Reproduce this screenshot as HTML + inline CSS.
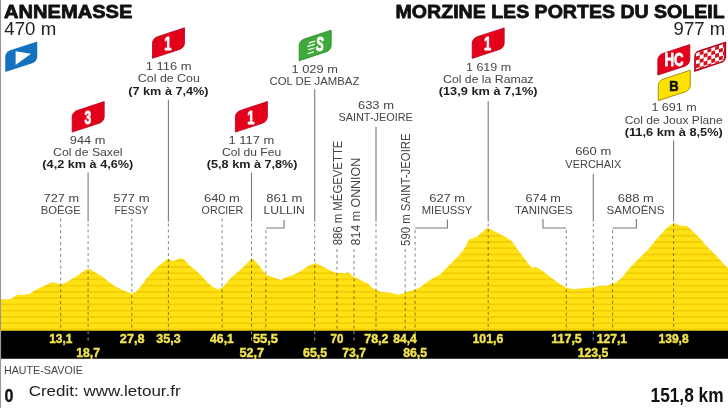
<!DOCTYPE html>
<html><head><meta charset="utf-8"><style>
html,body{margin:0;padding:0;background:#fff;width:728px;height:408px;overflow:hidden}
svg{display:block;will-change:transform}
text{font-family:"Liberation Sans",sans-serif}
</style></head><body>
<svg width="728" height="408" viewBox="0 0 728 408">
<rect width="728" height="408" fill="#fff"/>
<defs>
<pattern id="stripes" patternUnits="userSpaceOnUse" x="0" y="-0.9" width="728" height="6.25"><rect width="728" height="6.25" fill="#FFE114"/><rect y="4.6" width="728" height="1.5" fill="#EFCB00"/></pattern>
</defs>
<polygon points="1,299 7.8,299.4 11.8,298.4 16.7,295 21.6,295 29.4,294 34.3,290.6 39.2,288.1 45.5,285.2 51,282.5 55.1,282.5 60.6,284.5 66.1,282.5 71.6,279 78.5,274.9 85.3,270.1 89.5,268.7 95,272.2 101.8,276.3 108.7,281.8 115.5,286.6 122.4,290 129.3,292.8 132,293.5 136.2,291.4 140,287.5 146.9,278 153.7,270.4 160.6,264.2 168.2,258.7 173,261.2 177.1,259.4 181.2,258 185.3,260.8 189.5,265.6 195,269.7 200.4,274.5 205.9,280.7 212.8,286.9 218.3,289.6 223.8,286.2 230.7,278 240,270 245.5,265.1 251.7,258.2 256.5,262.4 262,269.2 266.1,274.7 271.6,276.8 277.1,278.8 281.2,279.9 285.3,277.5 292.2,275.4 300.4,271.3 308.7,265.8 315.5,263 322.4,266.5 329.3,269.9 336,273 341.8,272.8 344.7,273.8 347.6,272 353.5,276.5 359.4,279.4 366.8,283.1 374.1,289 381.5,291.9 388.8,292.6 394.7,293.8 399.1,294.9 405,292.6 412.4,290.4 418.2,288.2 420,287.6 425.9,282.7 433.7,277.8 439.6,274.9 449.4,265.1 459.2,255.3 465.1,247.5 469,239.6 476.9,236.7 482.7,231.8 487.6,227.8 493.5,230.8 498.4,233.3 506.5,237.5 512,241.3 517.2,248.9 522.3,255.7 527.4,262.6 531.7,267.7 536,266.9 542.9,271.2 551.5,278 560,284 566,287.5 573.8,289.2 582.3,288.3 592.6,287.5 599.5,285.7 606.3,285.7 610,284.6 615.9,282.6 621.8,277.7 629.6,267.9 639.4,258.1 649.2,248.3 657.1,238.5 664.9,229.7 670.8,224.8 674.7,223.2 680.6,225.8 686.5,225.8 692.4,230.7 700.2,238.5 708,247.4 715.9,255.2 723.7,264 728,268 728,331 1,331" fill="url(#stripes)"/>
<rect x="1" y="330.75" width="727" height="28" fill="#000"/>
<rect x="0" y="0" width="1.1" height="408" fill="#9a9a9a"/>
<line x1="88.1" y1="172.6" x2="88.1" y2="221.5" stroke="#7a7a7a" stroke-width="1.1"/>
<line x1="88.1" y1="223.5" x2="88.1" y2="331" stroke="rgba(0,0,0,0.47)" stroke-width="1.0" stroke-dasharray="3 2.9" stroke-dashoffset="0"/>
<line x1="168.4" y1="99.7" x2="168.4" y2="221.5" stroke="#7a7a7a" stroke-width="1.1"/>
<line x1="168.4" y1="223.5" x2="168.4" y2="331" stroke="rgba(0,0,0,0.47)" stroke-width="1.0" stroke-dasharray="3 2.9" stroke-dashoffset="0"/>
<line x1="251.5" y1="172.6" x2="251.5" y2="221.5" stroke="#7a7a7a" stroke-width="1.1"/>
<line x1="251.5" y1="223.5" x2="251.5" y2="331" stroke="rgba(0,0,0,0.47)" stroke-width="1.0" stroke-dasharray="3 2.9" stroke-dashoffset="0"/>
<line x1="314.7" y1="89.3" x2="314.7" y2="221.5" stroke="#7a7a7a" stroke-width="1.1"/>
<line x1="314.7" y1="223.5" x2="314.7" y2="331" stroke="rgba(0,0,0,0.47)" stroke-width="1.0" stroke-dasharray="3 2.9" stroke-dashoffset="0"/>
<line x1="376" y1="126.8" x2="376" y2="221.5" stroke="#7a7a7a" stroke-width="1.1"/>
<line x1="376" y1="223.5" x2="376" y2="331" stroke="rgba(0,0,0,0.47)" stroke-width="1.0" stroke-dasharray="3 2.9" stroke-dashoffset="0"/>
<line x1="488.2" y1="101" x2="488.2" y2="221.5" stroke="#7a7a7a" stroke-width="1.1"/>
<line x1="488.2" y1="223.5" x2="488.2" y2="331" stroke="rgba(0,0,0,0.47)" stroke-width="1.0" stroke-dasharray="3 2.9" stroke-dashoffset="0"/>
<line x1="593.3" y1="173.7" x2="593.3" y2="221.5" stroke="#7a7a7a" stroke-width="1.1"/>
<line x1="593.3" y1="223.5" x2="593.3" y2="331" stroke="rgba(0,0,0,0.47)" stroke-width="1.0" stroke-dasharray="3 2.9" stroke-dashoffset="0"/>
<line x1="673.6" y1="140.6" x2="673.6" y2="221.5" stroke="#7a7a7a" stroke-width="1.1"/>
<line x1="673.6" y1="223.5" x2="673.6" y2="331" stroke="rgba(0,0,0,0.47)" stroke-width="1.0" stroke-dasharray="3 2.9" stroke-dashoffset="0"/>
<line x1="60.7" y1="218.4" x2="60.7" y2="331" stroke="rgba(0,0,0,0.47)" stroke-width="1.0" stroke-dasharray="3 2.9" stroke-dashoffset="0"/>
<line x1="131.8" y1="218.4" x2="131.8" y2="331" stroke="rgba(0,0,0,0.47)" stroke-width="1.0" stroke-dasharray="3 2.9" stroke-dashoffset="0"/>
<line x1="222.1" y1="218.4" x2="222.1" y2="331" stroke="rgba(0,0,0,0.47)" stroke-width="1.0" stroke-dasharray="3 2.9" stroke-dashoffset="0"/>
<polyline points="284.1,220 284.1,228 265.9,228" fill="none" stroke="#7a7a7a" stroke-width="1.1"/>
<line x1="265.9" y1="230" x2="265.9" y2="331" stroke="rgba(0,0,0,0.47)" stroke-width="1.0" stroke-dasharray="3 2.9" stroke-dashoffset="0"/>
<polyline points="447.4,219.6 447.4,228 415.1,228" fill="none" stroke="#7a7a7a" stroke-width="1.1"/>
<line x1="415.1" y1="230" x2="415.1" y2="331" stroke="rgba(0,0,0,0.47)" stroke-width="1.0" stroke-dasharray="3 2.9" stroke-dashoffset="0"/>
<polyline points="543,219.1 543,228 566.3,228" fill="none" stroke="#7a7a7a" stroke-width="1.1"/>
<line x1="566.3" y1="230" x2="566.3" y2="331" stroke="rgba(0,0,0,0.47)" stroke-width="1.0" stroke-dasharray="3 2.9" stroke-dashoffset="0"/>
<polyline points="636.4,219 636.4,228 612.6,228" fill="none" stroke="#7a7a7a" stroke-width="1.1"/>
<line x1="612.6" y1="230" x2="612.6" y2="331" stroke="rgba(0,0,0,0.47)" stroke-width="1.0" stroke-dasharray="3 2.9" stroke-dashoffset="0"/>
<line x1="337" y1="249" x2="337" y2="331" stroke="rgba(0,0,0,0.47)" stroke-width="1.0" stroke-dasharray="3 2.9" stroke-dashoffset="0"/>
<line x1="354" y1="249" x2="354" y2="331" stroke="rgba(0,0,0,0.47)" stroke-width="1.0" stroke-dasharray="3 2.9" stroke-dashoffset="0"/>
<line x1="405.2" y1="249" x2="405.2" y2="331" stroke="rgba(0,0,0,0.47)" stroke-width="1.0" stroke-dasharray="3 2.9" stroke-dashoffset="0"/>
<line x1="88.1" y1="331.3" x2="88.1" y2="334.3" stroke="#888" stroke-width="1.1"/>
<line x1="88.1" y1="337.2" x2="88.1" y2="340.6" stroke="#888" stroke-width="1.1"/>
<line x1="251.5" y1="331.3" x2="251.5" y2="334.3" stroke="#888" stroke-width="1.1"/>
<line x1="251.5" y1="337.2" x2="251.5" y2="340.6" stroke="#888" stroke-width="1.1"/>
<line x1="314.7" y1="331.3" x2="314.7" y2="334.3" stroke="#888" stroke-width="1.1"/>
<line x1="314.7" y1="337.2" x2="314.7" y2="340.6" stroke="#888" stroke-width="1.1"/>
<line x1="354" y1="331.3" x2="354" y2="334.3" stroke="#888" stroke-width="1.1"/>
<line x1="354" y1="337.2" x2="354" y2="340.6" stroke="#888" stroke-width="1.1"/>
<line x1="415.1" y1="331.3" x2="415.1" y2="334.3" stroke="#888" stroke-width="1.1"/>
<line x1="415.1" y1="337.2" x2="415.1" y2="340.6" stroke="#888" stroke-width="1.1"/>
<line x1="593.3" y1="331.3" x2="593.3" y2="334.3" stroke="#888" stroke-width="1.1"/>
<line x1="593.3" y1="337.2" x2="593.3" y2="340.6" stroke="#888" stroke-width="1.1"/>
<path d="M5.25,72.0 L5.25,57.0 C5.25,53.75 7.5,51.26171875 10.25,50.359375 L37.25,41.5 L37.25,56.5 C37.25,59.75 35.0,62.23828125 32.25,63.140625 Z" fill="#1371BD"/>
<path d="M15.6,51.3 L15.6,65 L31,53.7 Z" fill="#fff"/>
<path d="M152.5,58.3 L152.5,43.3 C152.5,40.05 154.75,37.56171875 157.5,36.659375 L184.5,27.8 L184.5,42.8 C184.5,46.05 182.25,48.53828125 179.5,49.440625 Z" fill="#E3001B" stroke="#B5001A" stroke-width="0.8"/>
<text x="164.29" y="49.70" font-size="18.70" font-weight="bold" fill="#fff" stroke="#fff" stroke-width="0.9" stroke-linejoin="round" textLength="7.18" lengthAdjust="spacingAndGlyphs">1</text>
<path d="M72.2,132.1 L72.2,117.1 C72.2,113.85 74.45,111.36171875 77.2,110.459375 L104.2,101.6 L104.2,116.6 C104.2,119.85 101.95,122.33828125 99.2,123.240625 Z" fill="#E3001B" stroke="#B5001A" stroke-width="0.8"/>
<text x="84.53" y="123.50" font-size="18.70" font-weight="bold" fill="#fff" stroke="#fff" stroke-width="0.9" stroke-linejoin="round" textLength="6.71" lengthAdjust="spacingAndGlyphs">3</text>
<path d="M235.4,132.1 L235.4,117.1 C235.4,113.85 237.65,111.36171875 240.4,110.459375 L267.4,101.6 L267.4,116.6 C267.4,119.85 265.15,122.33828125 262.4,123.240625 Z" fill="#E3001B" stroke="#B5001A" stroke-width="0.8"/>
<text x="247.19" y="123.50" font-size="18.70" font-weight="bold" fill="#fff" stroke="#fff" stroke-width="0.9" stroke-linejoin="round" textLength="7.18" lengthAdjust="spacingAndGlyphs">1</text>
<path d="M472.2,58.4 L472.2,43.4 C472.2,40.15 474.45,37.66171875 477.2,36.759375 L504.2,27.9 L504.2,42.9 C504.2,46.15 501.95,48.63828125 499.2,49.540625 Z" fill="#E3001B" stroke="#B5001A" stroke-width="0.8"/>
<text x="483.99" y="49.80" font-size="18.70" font-weight="bold" fill="#fff" stroke="#fff" stroke-width="0.9" stroke-linejoin="round" textLength="7.18" lengthAdjust="spacingAndGlyphs">1</text>
<path d="M299.2,60.7 L299.2,45.7 C299.2,42.45 301.45,39.96171875 304.2,39.059375 L331.2,30.2 L331.2,45.2 C331.2,48.45 328.95,50.93828125 326.2,51.840625 Z" fill="#3DAA3A" stroke="#21852B" stroke-width="0.8"/>
<text x="316.05" y="51.20" font-size="20.00" font-weight="bold" fill="#fff" stroke="#fff" stroke-width="1.1" stroke-linejoin="round" textLength="7.70" lengthAdjust="spacingAndGlyphs" font-style="italic">S</text>
<line x1="309.2" y1="42.9" x2="314.8" y2="41.2" stroke="#fff" stroke-width="1.3" stroke-linecap="round"/>
<line x1="307.6" y1="46.3" x2="314.3" y2="44.3" stroke="#fff" stroke-width="1.3" stroke-linecap="round"/>
<line x1="308.8" y1="49.6" x2="314.0" y2="48.0" stroke="#fff" stroke-width="1.3" stroke-linecap="round"/>
<line x1="308.2" y1="53.5" x2="313.4" y2="51.9" stroke="#fff" stroke-width="1.3" stroke-linecap="round"/>
<path d="M657.8,75.1 L657.8,60.1 C657.8,56.85 660.05,54.36171875 662.8,53.459375 L689.8,44.6 L689.8,59.599999999999994 C689.8,62.849999999999994 687.55,65.33828125 684.8,66.240625 Z" fill="#E3001B" stroke="#B5001A" stroke-width="0.8"/>
<text x="664.50" y="66.20" font-size="19.28" font-weight="bold" fill="#fff" stroke="#fff" stroke-width="0.8" stroke-linejoin="round" textLength="19.15" lengthAdjust="spacingAndGlyphs">HC</text>
<path d="M694.1,71.9 L694.1,56.9 C694.1,53.65 696.35,51.16171875 699.1,50.259375 L726.1,41.4 L726.1,56.4 C726.1,59.65 723.85,62.13828125 721.1,63.040625 Z" fill="#B4001A"/>
<clipPath id="flagclip"><path d="M695.9,69.5 L695.9,55.2 C695.9,53.6 696.8,52.8 698.3,52.3 L724.1,43.8 L724.1,58.2 C724.1,59.8 723.3,60.7 721.8,61.2 Z"/></clipPath>
<g clip-path="url(#flagclip)"><rect x="690" y="38" width="40" height="36" fill="#fff"/>
<path d="M695.90,48.70 l3.85,-1.26 l0,3.90 l-3.85,1.26 Z" fill="#D8101E"/>
<path d="M695.90,56.50 l3.85,-1.26 l0,3.90 l-3.85,1.26 Z" fill="#D8101E"/>
<path d="M695.90,64.30 l3.85,-1.26 l0,3.90 l-3.85,1.26 Z" fill="#D8101E"/>
<path d="M695.90,72.10 l3.85,-1.26 l0,3.90 l-3.85,1.26 Z" fill="#D8101E"/>
<path d="M699.75,51.34 l3.85,-1.26 l0,3.90 l-3.85,1.26 Z" fill="#D8101E"/>
<path d="M699.75,59.14 l3.85,-1.26 l0,3.90 l-3.85,1.26 Z" fill="#D8101E"/>
<path d="M699.75,66.94 l3.85,-1.26 l0,3.90 l-3.85,1.26 Z" fill="#D8101E"/>
<path d="M699.75,74.74 l3.85,-1.26 l0,3.90 l-3.85,1.26 Z" fill="#D8101E"/>
<path d="M703.60,46.17 l3.85,-1.26 l0,3.90 l-3.85,1.26 Z" fill="#D8101E"/>
<path d="M703.60,53.97 l3.85,-1.26 l0,3.90 l-3.85,1.26 Z" fill="#D8101E"/>
<path d="M703.60,61.77 l3.85,-1.26 l0,3.90 l-3.85,1.26 Z" fill="#D8101E"/>
<path d="M703.60,69.57 l3.85,-1.26 l0,3.90 l-3.85,1.26 Z" fill="#D8101E"/>
<path d="M707.45,48.81 l3.85,-1.26 l0,3.90 l-3.85,1.26 Z" fill="#D8101E"/>
<path d="M707.45,56.61 l3.85,-1.26 l0,3.90 l-3.85,1.26 Z" fill="#D8101E"/>
<path d="M707.45,64.41 l3.85,-1.26 l0,3.90 l-3.85,1.26 Z" fill="#D8101E"/>
<path d="M707.45,72.21 l3.85,-1.26 l0,3.90 l-3.85,1.26 Z" fill="#D8101E"/>
<path d="M711.30,43.65 l3.85,-1.26 l0,3.90 l-3.85,1.26 Z" fill="#D8101E"/>
<path d="M711.30,51.45 l3.85,-1.26 l0,3.90 l-3.85,1.26 Z" fill="#D8101E"/>
<path d="M711.30,59.25 l3.85,-1.26 l0,3.90 l-3.85,1.26 Z" fill="#D8101E"/>
<path d="M711.30,67.05 l3.85,-1.26 l0,3.90 l-3.85,1.26 Z" fill="#D8101E"/>
<path d="M715.15,46.28 l3.85,-1.26 l0,3.90 l-3.85,1.26 Z" fill="#D8101E"/>
<path d="M715.15,54.08 l3.85,-1.26 l0,3.90 l-3.85,1.26 Z" fill="#D8101E"/>
<path d="M715.15,61.88 l3.85,-1.26 l0,3.90 l-3.85,1.26 Z" fill="#D8101E"/>
<path d="M715.15,69.68 l3.85,-1.26 l0,3.90 l-3.85,1.26 Z" fill="#D8101E"/>
<path d="M719.00,41.12 l3.85,-1.26 l0,3.90 l-3.85,1.26 Z" fill="#D8101E"/>
<path d="M719.00,48.92 l3.85,-1.26 l0,3.90 l-3.85,1.26 Z" fill="#D8101E"/>
<path d="M719.00,56.72 l3.85,-1.26 l0,3.90 l-3.85,1.26 Z" fill="#D8101E"/>
<path d="M719.00,64.52 l3.85,-1.26 l0,3.90 l-3.85,1.26 Z" fill="#D8101E"/>
<path d="M722.85,43.76 l3.85,-1.26 l0,3.90 l-3.85,1.26 Z" fill="#D8101E"/>
<path d="M722.85,51.56 l3.85,-1.26 l0,3.90 l-3.85,1.26 Z" fill="#D8101E"/>
<path d="M722.85,59.36 l3.85,-1.26 l0,3.90 l-3.85,1.26 Z" fill="#D8101E"/>
<path d="M722.85,67.16 l3.85,-1.26 l0,3.90 l-3.85,1.26 Z" fill="#D8101E"/>
</g>
<path d="M658.3,100.7 L658.3,85.7 C658.3,82.45 660.55,79.96171875 663.3,79.059375 L690.3,70.2 L690.3,85.2 C690.3,88.45 688.05,90.93828125 685.3,91.840625 Z" fill="#FFE100" stroke="#8a7a00" stroke-width="0.8"/>
<text x="669.13" y="91.30" font-size="15.51" font-weight="bold" fill="#111" stroke="#111" stroke-width="0.7" stroke-linejoin="round" textLength="9.35" lengthAdjust="spacingAndGlyphs">B</text>
<text x="4.00" y="17.90" font-size="18.70" font-weight="bold" fill="#111" stroke="#111" stroke-width="0.8" stroke-linejoin="round" textLength="128.40" lengthAdjust="spacingAndGlyphs">ANNEMASSE</text>
<text x="4.33" y="35.20" font-size="18.41" font-weight="normal" fill="#222" textLength="51.87" lengthAdjust="spacingAndGlyphs">470 m</text>
<text x="395.58" y="18.00" font-size="18.99" font-weight="bold" fill="#111" stroke="#111" stroke-width="0.8" stroke-linejoin="round" textLength="329.10" lengthAdjust="spacingAndGlyphs">MORZINE LES PORTES DU SOLEIL</text>
<text x="673.62" y="35.25" font-size="18.48" font-weight="normal" fill="#222" textLength="51.47" lengthAdjust="spacingAndGlyphs">977 m</text>
<text x="145.83" y="70.10" font-size="11.45" font-weight="normal" fill="#454545" textLength="45.73" lengthAdjust="spacingAndGlyphs">1 116 m</text>
<text x="137.88" y="82.10" font-size="11.01" font-weight="normal" fill="#454545" textLength="61.93" lengthAdjust="spacingAndGlyphs">Col de Cou</text>
<text x="128.27" y="94.50" font-size="11.01" font-weight="bold" fill="#1e1e1e" textLength="80.29" lengthAdjust="spacingAndGlyphs">(7 km à 7,4%)</text>
<text x="69.89" y="143.80" font-size="11.01" font-weight="normal" fill="#454545" textLength="35.53" lengthAdjust="spacingAndGlyphs">944 m</text>
<text x="53.09" y="155.50" font-size="11.01" font-weight="normal" fill="#454545" textLength="69.44" lengthAdjust="spacingAndGlyphs">Col de Saxel</text>
<text x="42.37" y="167.80" font-size="11.01" font-weight="bold" fill="#1e1e1e" textLength="90.98" lengthAdjust="spacingAndGlyphs">(4,2 km à 4,6%)</text>
<text x="228.53" y="143.70" font-size="11.16" font-weight="normal" fill="#454545" textLength="45.83" lengthAdjust="spacingAndGlyphs">1 117 m</text>
<text x="222.00" y="156.00" font-size="11.16" font-weight="normal" fill="#454545" textLength="59.11" lengthAdjust="spacingAndGlyphs">Col du Feu</text>
<text x="206.87" y="167.50" font-size="11.01" font-weight="bold" fill="#1e1e1e" textLength="90.57" lengthAdjust="spacingAndGlyphs">(5,8 km à 7,8%)</text>
<text x="291.44" y="73.00" font-size="11.30" font-weight="normal" fill="#454545" textLength="46.41" lengthAdjust="spacingAndGlyphs">1 029 m</text>
<text x="269.53" y="85.00" font-size="11.30" font-weight="normal" fill="#454545" textLength="89.82" lengthAdjust="spacingAndGlyphs">COL DE JAMBAZ</text>
<text x="357.95" y="108.50" font-size="11.59" font-weight="normal" fill="#454545" textLength="36.08" lengthAdjust="spacingAndGlyphs">633 m</text>
<text x="338.41" y="120.90" font-size="11.59" font-weight="normal" fill="#454545" textLength="74.45" lengthAdjust="spacingAndGlyphs">SAINT-JEOIRE</text>
<text x="465.96" y="70.50" font-size="11.30" font-weight="normal" fill="#454545" textLength="45.27" lengthAdjust="spacingAndGlyphs">1 619 m</text>
<text x="443.09" y="82.80" font-size="11.30" font-weight="normal" fill="#454545" textLength="90.52" lengthAdjust="spacingAndGlyphs">Col de la Ramaz</text>
<text x="438.76" y="94.60" font-size="11.30" font-weight="bold" fill="#1e1e1e" textLength="98.77" lengthAdjust="spacingAndGlyphs">(13,9 km à 7,1%)</text>
<text x="651.46" y="111.40" font-size="11.30" font-weight="normal" fill="#454545" textLength="45.16" lengthAdjust="spacingAndGlyphs">1 691 m</text>
<text x="624.70" y="123.60" font-size="11.30" font-weight="normal" fill="#454545" textLength="98.04" lengthAdjust="spacingAndGlyphs">Col de Joux Plane</text>
<text x="624.66" y="135.60" font-size="11.30" font-weight="bold" fill="#1e1e1e" textLength="98.20" lengthAdjust="spacingAndGlyphs">(11,6 km à 8,5%)</text>
<text x="43.63" y="202.10" font-size="11.74" font-weight="normal" fill="#454545" textLength="35.39" lengthAdjust="spacingAndGlyphs">727 m</text>
<text x="40.67" y="213.90" font-size="11.45" font-weight="normal" fill="#454545" textLength="40.20" lengthAdjust="spacingAndGlyphs">BOËGE</text>
<text x="113.38" y="202.10" font-size="11.74" font-weight="normal" fill="#454545" textLength="36.21" lengthAdjust="spacingAndGlyphs">577 m</text>
<text x="114.55" y="213.90" font-size="11.45" font-weight="normal" fill="#454545" textLength="33.87" lengthAdjust="spacingAndGlyphs">FESSY</text>
<text x="203.95" y="202.10" font-size="11.74" font-weight="normal" fill="#454545" textLength="35.98" lengthAdjust="spacingAndGlyphs">640 m</text>
<text x="201.59" y="213.90" font-size="11.45" font-weight="normal" fill="#454545" textLength="41.61" lengthAdjust="spacingAndGlyphs">ORCIER</text>
<text x="266.25" y="202.10" font-size="11.74" font-weight="normal" fill="#454545" textLength="36.19" lengthAdjust="spacingAndGlyphs">861 m</text>
<text x="263.59" y="213.90" font-size="11.45" font-weight="normal" fill="#454545" textLength="41.32" lengthAdjust="spacingAndGlyphs">LULLIN</text>
<text x="429.25" y="202.00" font-size="11.59" font-weight="normal" fill="#454545" textLength="35.88" lengthAdjust="spacingAndGlyphs">627 m</text>
<text x="421.77" y="214.10" font-size="11.59" font-weight="normal" fill="#454545" textLength="50.56" lengthAdjust="spacingAndGlyphs">MIEUSSY</text>
<text x="525.56" y="201.70" font-size="11.30" font-weight="normal" fill="#454545" textLength="35.35" lengthAdjust="spacingAndGlyphs">674 m</text>
<text x="514.94" y="214.00" font-size="11.30" font-weight="normal" fill="#454545" textLength="57.70" lengthAdjust="spacingAndGlyphs">TANINGES</text>
<text x="575.15" y="155.40" font-size="11.59" font-weight="normal" fill="#454545" textLength="36.08" lengthAdjust="spacingAndGlyphs">660 m</text>
<text x="565.35" y="167.50" font-size="11.59" font-weight="normal" fill="#454545" textLength="56.10" lengthAdjust="spacingAndGlyphs">VERCHAIX</text>
<text x="617.85" y="201.70" font-size="11.30" font-weight="normal" fill="#454545" textLength="35.88" lengthAdjust="spacingAndGlyphs">688 m</text>
<text x="606.58" y="214.00" font-size="11.30" font-weight="normal" fill="#454545" textLength="57.85" lengthAdjust="spacingAndGlyphs">SAMOËNS</text>
<text transform="translate(342.30,244.90) rotate(-90)" x="-0.48" y="0" font-size="12.17" font-weight="normal" fill="#454545" textLength="104.76" lengthAdjust="spacingAndGlyphs">886 m MÉGEVETTE</text>
<text transform="translate(359.80,244.90) rotate(-90)" x="-0.53" y="0" font-size="12.17" font-weight="normal" fill="#454545" textLength="87.55" lengthAdjust="spacingAndGlyphs">814 m ONNION</text>
<text transform="translate(410.30,245.50) rotate(-90)" x="-0.46" y="0" font-size="12.32" font-weight="normal" fill="#454545" textLength="112.63" lengthAdjust="spacingAndGlyphs">590 m SAINT-JEOIRE</text>
<text x="49.16" y="342.90" font-size="13.04" font-weight="bold" fill="#F0E34C" stroke="#F0E34C" stroke-width="0.45" stroke-linejoin="round" textLength="23.19" lengthAdjust="spacingAndGlyphs">13,1</text>
<text x="76.34" y="356.80" font-size="13.33" font-weight="bold" fill="#F0E34C" stroke="#F0E34C" stroke-width="0.45" stroke-linejoin="round" textLength="23.64" lengthAdjust="spacingAndGlyphs">18,7</text>
<text x="119.86" y="342.90" font-size="13.04" font-weight="bold" fill="#F0E34C" stroke="#F0E34C" stroke-width="0.45" stroke-linejoin="round" textLength="24.74" lengthAdjust="spacingAndGlyphs">27,8</text>
<text x="156.27" y="342.90" font-size="13.04" font-weight="bold" fill="#F0E34C" stroke="#F0E34C" stroke-width="0.45" stroke-linejoin="round" textLength="24.39" lengthAdjust="spacingAndGlyphs">35,3</text>
<text x="210.12" y="342.90" font-size="13.04" font-weight="bold" fill="#F0E34C" stroke="#F0E34C" stroke-width="0.45" stroke-linejoin="round" textLength="23.68" lengthAdjust="spacingAndGlyphs">46,1</text>
<text x="239.39" y="356.80" font-size="13.33" font-weight="bold" fill="#F0E34C" stroke="#F0E34C" stroke-width="0.45" stroke-linejoin="round" textLength="24.62" lengthAdjust="spacingAndGlyphs">52,7</text>
<text x="252.88" y="342.90" font-size="13.04" font-weight="bold" fill="#F0E34C" stroke="#F0E34C" stroke-width="0.45" stroke-linejoin="round" textLength="25.19" lengthAdjust="spacingAndGlyphs">55,5</text>
<text x="303.09" y="356.80" font-size="13.33" font-weight="bold" fill="#F0E34C" stroke="#F0E34C" stroke-width="0.45" stroke-linejoin="round" textLength="23.97" lengthAdjust="spacingAndGlyphs">65,5</text>
<text x="330.56" y="342.90" font-size="13.04" font-weight="bold" fill="#F0E34C" stroke="#F0E34C" stroke-width="0.45" stroke-linejoin="round" textLength="12.88" lengthAdjust="spacingAndGlyphs">70</text>
<text x="342.28" y="356.80" font-size="13.33" font-weight="bold" fill="#F0E34C" stroke="#F0E34C" stroke-width="0.45" stroke-linejoin="round" textLength="23.70" lengthAdjust="spacingAndGlyphs">73,7</text>
<text x="364.27" y="342.90" font-size="13.04" font-weight="bold" fill="#F0E34C" stroke="#F0E34C" stroke-width="0.45" stroke-linejoin="round" textLength="24.19" lengthAdjust="spacingAndGlyphs">78,2</text>
<text x="393.16" y="342.90" font-size="13.04" font-weight="bold" fill="#F0E34C" stroke="#F0E34C" stroke-width="0.45" stroke-linejoin="round" textLength="23.62" lengthAdjust="spacingAndGlyphs">84,4</text>
<text x="403.15" y="356.80" font-size="13.33" font-weight="bold" fill="#F0E34C" stroke="#F0E34C" stroke-width="0.45" stroke-linejoin="round" textLength="23.90" lengthAdjust="spacingAndGlyphs">86,5</text>
<text x="472.53" y="342.90" font-size="13.04" font-weight="bold" fill="#F0E34C" stroke="#F0E34C" stroke-width="0.45" stroke-linejoin="round" textLength="30.80" lengthAdjust="spacingAndGlyphs">101,6</text>
<text x="551.22" y="342.90" font-size="13.04" font-weight="bold" fill="#F0E34C" stroke="#F0E34C" stroke-width="0.45" stroke-linejoin="round" textLength="30.61" lengthAdjust="spacingAndGlyphs">117,5</text>
<text x="577.84" y="356.80" font-size="13.33" font-weight="bold" fill="#F0E34C" stroke="#F0E34C" stroke-width="0.45" stroke-linejoin="round" textLength="30.39" lengthAdjust="spacingAndGlyphs">123,5</text>
<text x="596.85" y="342.90" font-size="13.04" font-weight="bold" fill="#F0E34C" stroke="#F0E34C" stroke-width="0.45" stroke-linejoin="round" textLength="30.19" lengthAdjust="spacingAndGlyphs">127,1</text>
<text x="658.55" y="342.90" font-size="13.04" font-weight="bold" fill="#F0E34C" stroke="#F0E34C" stroke-width="0.45" stroke-linejoin="round" textLength="30.11" lengthAdjust="spacingAndGlyphs">139,8</text>
<text x="4.02" y="373.80" font-size="10.87" font-weight="normal" fill="#444" textLength="78.83" lengthAdjust="spacingAndGlyphs">HAUTE-SAVOIE</text>
<text x="4.56" y="401.80" font-size="18.99" font-weight="bold" fill="#111" stroke="#111" stroke-width="0.3" stroke-linejoin="round" textLength="8.90" lengthAdjust="spacingAndGlyphs">0</text>
<text x="28.65" y="396.20" font-size="15.51" font-weight="normal" fill="#222" textLength="152.01" lengthAdjust="spacingAndGlyphs">Credit: www.letour.fr</text>
<text x="650.52" y="401.90" font-size="19.42" font-weight="bold" fill="#111" textLength="73.03" lengthAdjust="spacingAndGlyphs">151,8 km</text>
</svg>
</body></html>
